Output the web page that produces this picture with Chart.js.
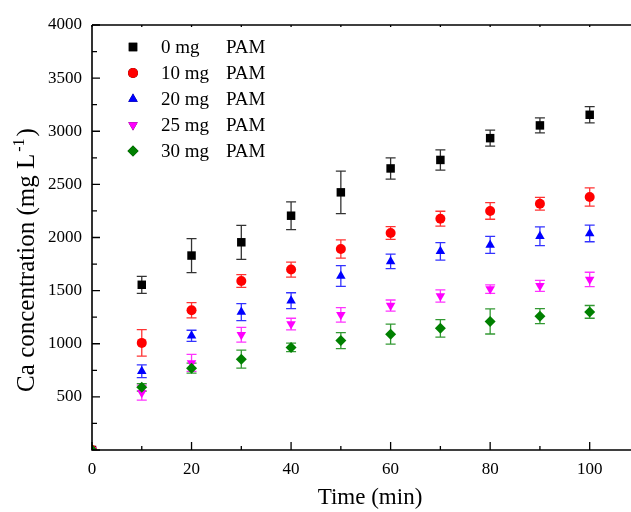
<!DOCTYPE html>
<html lang="en">
<head>
  <meta charset="UTF-8">
  <title>Ca concentration vs time</title>
  <script src="https://cdn.jsdelivr.net/npm/chart.js"></script>
  <style>
    html, body { margin: 0; padding: 0; background: #fff; overflow: hidden; }
  </style>
</head>
<body>
<div style="width:631px;height:512px;">
  <canvas id="grafico" width="631" height="512"></canvas>
</div>
<script>
// dados
const tempos = [0, 10, 20, 30, 40, 50, 60, 70, 80, 90, 100];

const pam0 = [0, 1555, 1830, 1955, 2205, 2425, 2650, 2730, 2935, 3055, 3155];
const pam0Erro = [0, 80, 160, 160, 130, 200, 100, 95, 75, 70, 77];

const pam10 = [0, 1008, 1315, 1590, 1698, 1892, 2043, 2177, 2250, 2318, 2382];
const pam10Erro = [0, 125, 72, 60, 70, 86, 60, 70, 78, 60, 86];

const pam20 = [0, 742, 1075, 1298, 1405, 1638, 1775, 1870, 1930, 2012, 2038];
const pam20Erro = [0, 60, 52, 80, 75, 98, 68, 82, 80, 88, 78];

const pam25 = [0, 540, 820, 1085, 1185, 1272, 1360, 1450, 1515, 1545, 1605];
const pam25Erro = [0, 70, 80, 70, 55, 68, 52, 58, 40, 52, 68];

const pam30 = [0, 590, 770, 855, 965, 1030, 1090, 1145, 1210, 1260, 1300];
const pam30Erro = [0, 35, 47, 85, 40, 75, 94, 82, 118, 70, 60];

const doses = ['0 mg', '10 mg', '20 mg', '25 mg', '30 mg'];
const cores = ['#000000', '#ff0000', '#0000ff', '#ff00ff', '#008000'];
const estilos = ['rect', 'circle', 'triangle', 'triangle', 'rectRot'];
const rotacoes = [0, 0, 0, 180, 0];
const raios = [6, 5, 5.5, 5.5, 5.5];

const series = [pam0, pam10, pam20, pam25, pam30];
const erros = [pam0Erro, pam10Erro, pam20Erro, pam25Erro, pam30Erro];

const fonte = '"Liberation Serif", "Times New Roman", serif';

let datasets = series.map(function (valores, i) {
  return {
    label: doses[i] + ' PAM',
    data: valores.map((v, j) => ({ x: tempos[j], y: v })),
    erros: erros[i],
    pointStyle: estilos[i],
    rotation: rotacoes[i],
    pointRadius: raios[i],
    pointHoverRadius: raios[i],
    backgroundColor: cores[i],
    borderColor: cores[i],
    borderWidth: 0,
    showLine: false,
    order: 5 - i
  };
});

// barras de erro, desenhadas antes dos pontos
const barrasErro = {
  id: 'barrasErro',
  beforeDatasetsDraw(chart) {
    const ctx = chart.ctx;
    const y = chart.scales.y;
    const area = chart.chartArea;
    ctx.save();
    ctx.beginPath();
    ctx.rect(area.left, area.top, area.right - area.left, area.bottom - area.top);
    ctx.clip();
    chart.data.datasets.forEach(function (ds, i) {
      const meta = chart.getDatasetMeta(i);
      ctx.strokeStyle = ds.borderColor;
      ctx.globalAlpha = 0.8;
      ctx.lineWidth = 1.3;
      meta.data.forEach(function (pt, j) {
        const e = ds.erros[j];
        if (!e) return;
        const yTopo = y.getPixelForValue(ds.data[j].y + e);
        const yBase = y.getPixelForValue(ds.data[j].y - e);
        ctx.beginPath();
        ctx.moveTo(pt.x, yTopo);
        ctx.lineTo(pt.x, yBase);
        ctx.moveTo(pt.x - 5, yTopo);
        ctx.lineTo(pt.x + 5, yTopo);
        ctx.moveTo(pt.x - 5, yBase);
        ctx.lineTo(pt.x + 5, yBase);
        ctx.stroke();
      });
    });
    ctx.restore();
  }
};

// eixos, marcas internas, titulos e legenda
const moldura = {
  id: 'moldura',
  afterDraw(chart) {
    const ctx = chart.ctx;
    const a = chart.chartArea;
    const sx = chart.scales.x;
    const sy = chart.scales.y;
    ctx.save();
    ctx.strokeStyle = '#000';
    ctx.lineWidth = 1.6;
    ctx.beginPath();
    ctx.moveTo(a.left, a.top);
    ctx.lineTo(a.left, a.bottom);
    ctx.lineTo(a.right, a.bottom);
    ctx.moveTo(a.left, a.top);
    ctx.lineTo(a.right, a.top);
    ctx.stroke();

    ctx.lineWidth = 1.3;
    ctx.beginPath();
    sx.ticks.forEach(function (t) {
      const px = sx.getPixelForValue(t.value);
      const len = t.value % 20 === 0 ? 8 : 4;
      ctx.moveTo(px, a.bottom);
      ctx.lineTo(px, a.bottom - len);
      ctx.moveTo(px, a.top);
      ctx.lineTo(px, a.top + 2);
    });
    sy.ticks.forEach(function (t) {
      const py = sy.getPixelForValue(t.value);
      const len = t.value % 500 === 0 ? 8 : 5;
      ctx.moveTo(a.left, py);
      ctx.lineTo(a.left + len, py);
    });
    ctx.stroke();

    // titulos dos eixos
    ctx.fillStyle = '#000';
    ctx.font = '23px ' + fonte;
    ctx.textAlign = 'center';
    ctx.textBaseline = 'alphabetic';
    ctx.fillText('Time (min)', 370, 504);

    ctx.save();
    ctx.translate(34, 260);
    ctx.rotate(-Math.PI / 2);
    const parte1 = 'Ca concentration (mg L';
    const sup = '-1';
    const parte2 = ')';
    ctx.font = '25px ' + fonte;
    const w1 = ctx.measureText(parte1).width;
    const w3 = ctx.measureText(parte2).width;
    ctx.font = '16px ' + fonte;
    const w2 = ctx.measureText(sup).width;
    let x0 = -(w1 + w2 + w3 + 4) / 2;
    ctx.textAlign = 'left';
    ctx.font = '25px ' + fonte;
    ctx.fillText(parte1, x0, 0);
    ctx.font = '16px ' + fonte;
    ctx.fillText(sup, x0 + w1 + 2, -10);
    ctx.font = '25px ' + fonte;
    ctx.fillText(parte2, x0 + w1 + w2 + 4, 0);
    ctx.restore();

    // legenda
    chart.data.datasets.forEach(function (ds, i) {
      const yl = 47 + i * 26;
      Chart.helpers.drawPoint(ctx, {
        pointStyle: ds.pointStyle,
        rotation: ds.rotation,
        radius: ds.pointRadius,
        borderWidth: 0
      }, 133, yl);
      ctx.fillStyle = ds.backgroundColor;
      ctx.fill();
      ctx.fillStyle = '#000';
      ctx.font = '19px ' + fonte;
      ctx.textAlign = 'left';
      ctx.textBaseline = 'middle';
      ctx.fillText(doses[i], 161, yl + 1);
      ctx.fillText('PAM', 226, yl + 1);
    });
    ctx.restore();
  }
};

const config = {
  type: 'scatter',
  data: { datasets: datasets },
  options: {
    responsive: false,
    animation: false,
    layout: { autoPadding: false, padding: { top: 25, left: 0, right: 0, bottom: 0 } },
    plugins: { legend: { display: false }, tooltip: { enabled: false } },
    scales: {
      x: {
        type: 'linear',
        min: 0,
        max: 108.3,
        afterBuildTicks: function (s) {
          s.ticks = tempos.map(v => ({ value: v }));
        },
        afterFit: function (s) { s.height = 62; },
        grid: { display: false, drawTicks: false },
        border: { display: false },
        ticks: {
          padding: 9,
          color: '#000',
          font: { family: fonte, size: 17 },
          maxRotation: 0,
          autoSkip: false,
          callback: function (v) { return v % 20 === 0 ? v : ''; }
        }
      },
      y: {
        min: 0,
        max: 4000,
        afterBuildTicks: function (s) {
          const t = [];
          for (let v = 0; v <= 4000; v += 250) t.push({ value: v });
          s.ticks = t;
        },
        afterFit: function (s) { s.width = 92; },
        grid: { display: false, drawTicks: false },
        border: { display: false },
        ticks: {
          padding: 10,
          color: '#000',
          font: { family: fonte, size: 17 },
          autoSkip: false,
          callback: function (v) { return v % 500 === 0 && v > 0 ? v : ''; }
        }
      }
    }
  },
  plugins: [barrasErro, moldura]
};

let myChart = new Chart(document.getElementById('grafico'), config);
</script>
</body>
</html>
